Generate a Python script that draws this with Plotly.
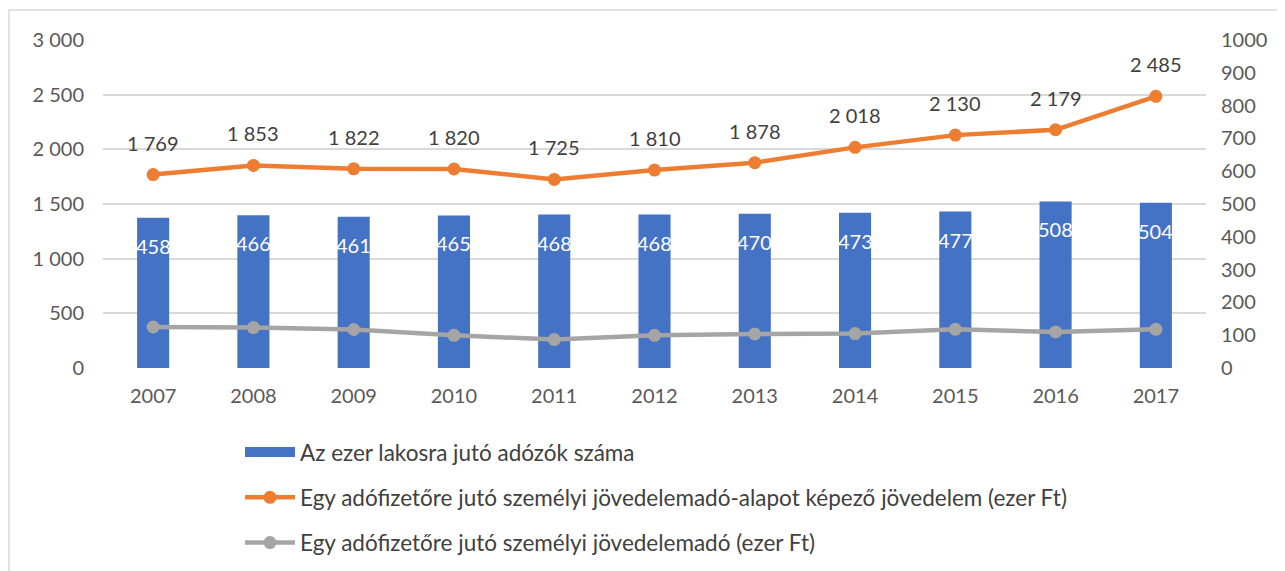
import plotly.graph_objects as go

years = ["2007", "2008", "2009", "2010", "2011", "2012", "2013", "2014", "2015", "2016", "2017"]
adozok = [458, 466, 461, 465, 468, 468, 470, 473, 477, 508, 504]
jovedelem = [1769, 1853, 1822, 1820, 1725, 1810, 1878, 2018, 2130, 2179, 2485]
szja = [375, 370, 352, 299, 260, 299, 311, 315, 354, 330, 354]

right_ticks = [0, 100, 200, 300, 400, 500, 600, 700, 800, 900, 1000]

name_bar = "Az ezer lakosra jutó adózók száma"
name_orange = "Egy adófizetőre jutó személyi jövedelemadó-alapot képező jövedelem (ezer Ft)"
name_gray = "Egy adófizetőre jutó személyi jövedelemadó (ezer Ft)"

FONT = "Lato, sans-serif"
TICK_COLOR = "#595959"
LABEL_COLOR = "#404040"
BLUE = "#4472C4"
FS = 20

fig = go.Figure()

# bars on the base axis (drawn at the right side), lines on the overlay so they stay on top
fig.add_trace(go.Bar(
    x=years, y=adozok, name=name_bar, yaxis="y",
    marker=dict(color=BLUE, line=dict(width=0)),
    width=0.32, showlegend=False,
))
# legend swatch for the bars (wide block like excel)
fig.add_trace(go.Scatter(
    x=[None], y=[None], name=name_bar, mode="lines",
    line=dict(color=BLUE, width=12), legendgroup="a",
))
fig.add_trace(go.Scatter(
    x=years, y=jovedelem, name=name_orange, yaxis="y2",
    mode="lines+markers",
    line=dict(color="#ED7D31", width=4.5),
    marker=dict(color="#ED7D31", size=13),
    legendgroup="b",
))
fig.add_trace(go.Scatter(
    x=years, y=szja, name=name_gray, yaxis="y2",
    mode="lines+markers",
    line=dict(color="#A5A5A5", width=4.5),
    marker=dict(color="#A5A5A5", size=13),
    legendgroup="c",
))

# data labels; on a category axis annotations take the category index
annotations = []
for i, v in enumerate(adozok):
    annotations.append(dict(
        x=i, y=v, xref="x", yref="y", text=str(v), showarrow=False,
        yshift=-28, font=dict(color="white", size=FS, family=FONT),
    ))
for i, v in enumerate(jovedelem):
    annotations.append(dict(
        x=i, y=v, xref="x", yref="y2", text=f"{v:,}".replace(",", " "),
        showarrow=False, yshift=32,
        font=dict(color=LABEL_COLOR, size=FS, family=FONT),
    ))

fig.update_layout(
    width=1277, height=571,
    margin=dict(l=95, r=79, t=32, b=211),
    paper_bgcolor="white", plot_bgcolor="white",
    separators=". ",
    font=dict(family=FONT, size=FS, color=TICK_COLOR),
    xaxis=dict(
        type="category", automargin=False, range=[-0.5, len(years) - 0.5],
        showgrid=False, showline=False, ticks="",
        ticklabelstandoff=14,
        tickfont=dict(size=FS, color=TICK_COLOR),
    ),
    yaxis=dict(
        side="right", range=[0, 1000], automargin=False,
        tickvals=right_ticks, ticktext=[str(v) for v in right_ticks],
        showgrid=False, zeroline=False, showline=False, ticks="",
        ticklabelstandoff=14,
        tickfont=dict(size=FS, color=TICK_COLOR),
    ),
    yaxis2=dict(
        overlaying="y", side="left", range=[0, 3000], automargin=False,
        dtick=500, tickformat=",d",
        showgrid=True, gridcolor="#D9D9D9", gridwidth=1.5,
        zeroline=False, showline=False, ticks="",
        ticklabelstandoff=18,
        tickfont=dict(size=FS, color=TICK_COLOR),
    ),
    annotations=annotations,
    showlegend=True,
    legend=dict(
        x=0.1242, xanchor="left", xref="paper",
        y=0.2592, yanchor="top", yref="container",
        orientation="v", traceorder="grouped", tracegroupgap=13,
        font=dict(size=22.5, color=LABEL_COLOR, family=FONT),
        bgcolor="rgba(0,0,0,0)",
        itemwidth=50,
    ),
    shapes=[dict(
        type="rect", xref="paper", yref="paper",
        x0=-0.0852, x1=1.08, y0=-0.7, y1=1.0915,
        line=dict(color="#D9D9D9", width=1.5), fillcolor="rgba(0,0,0,0)",
        layer="below",
    )],
)

fig.write_html("out.html")
